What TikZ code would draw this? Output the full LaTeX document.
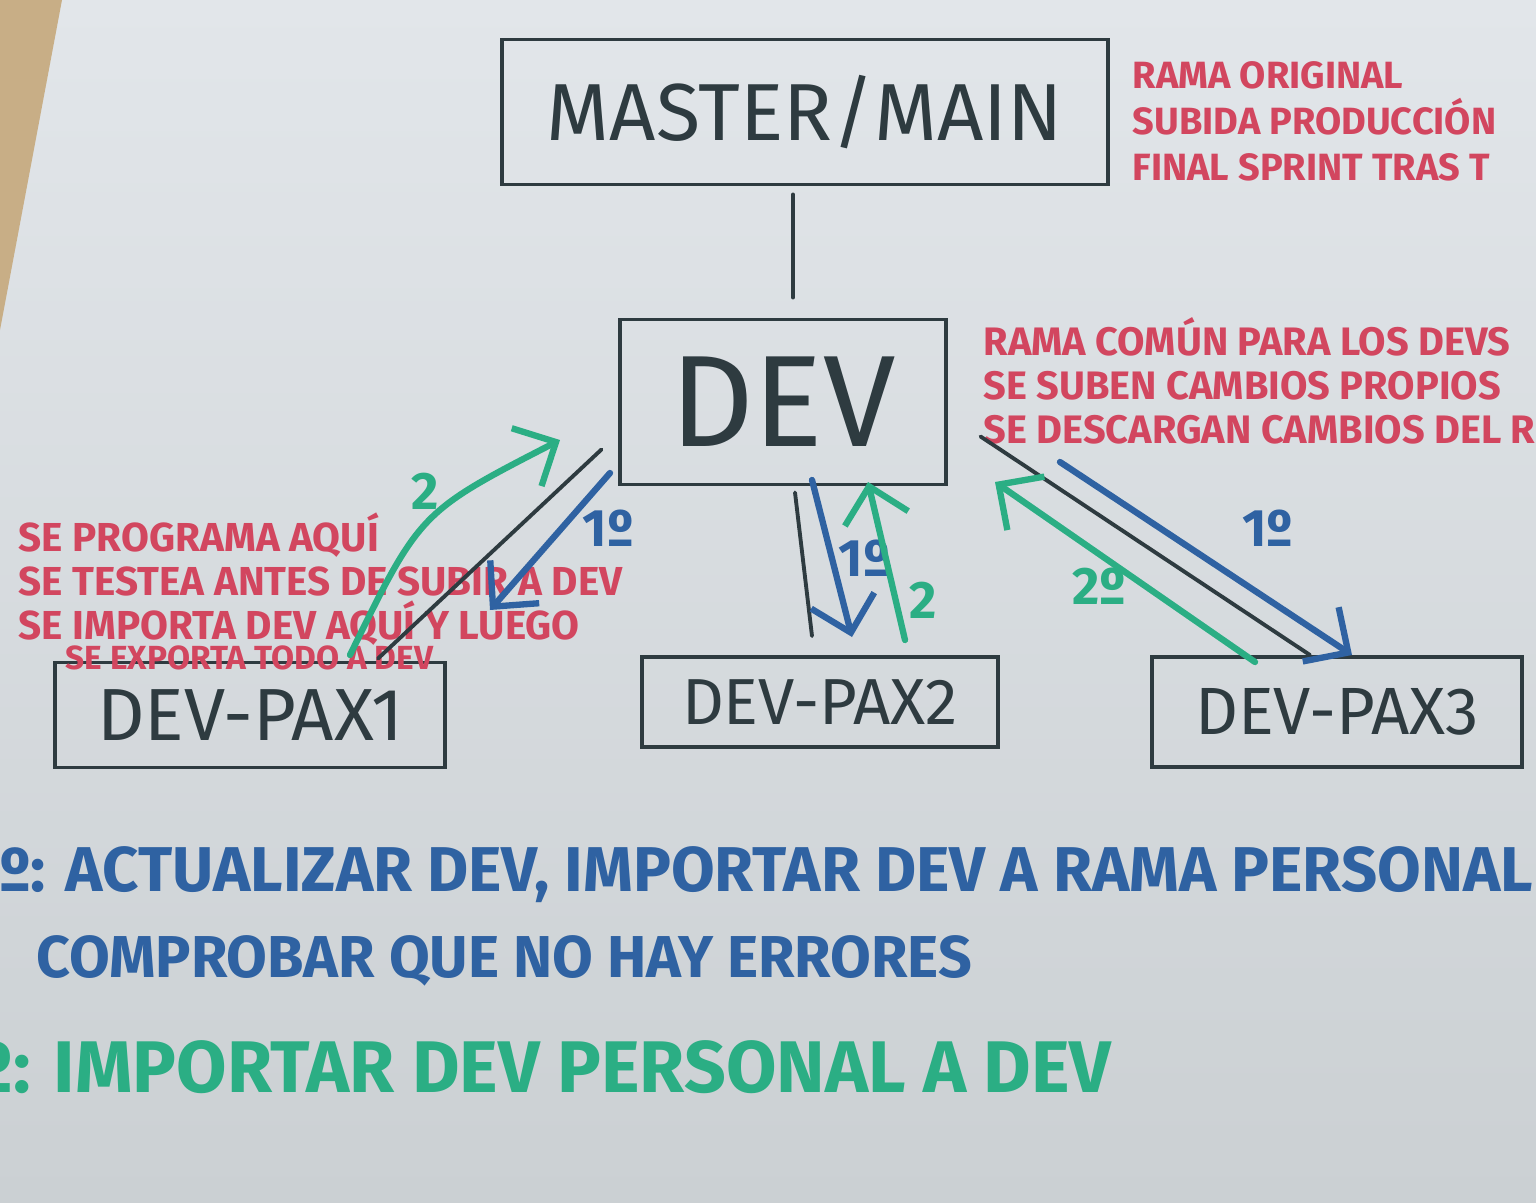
\documentclass[tikz,border=0pt]{standalone}
\usepackage{fontspec}
\setmainfont{Fira Sans}
\usetikzlibrary{arrows.meta, positioning, calc}

\definecolor{paper}{HTML}{E2E6EA}
\definecolor{paperlow}{HTML}{CBD0D3}
\definecolor{tabletop}{HTML}{C8AE86}
\definecolor{ink}{HTML}{2E3B40}
\definecolor{redink}{HTML}{D2465F}
\definecolor{blueink}{HTML}{2F62A2}
\definecolor{greenink}{HTML}{2BAE84}

\begin{document}
\begin{tikzpicture}[x=0.01cm, y=-0.01cm, >={Straight Barb[length=3.3mm, width=6.5mm]},
  branch/.style={draw=ink, line width=1.1pt, text=ink, inner sep=0pt},
  link/.style={draw=ink, line width=1.1pt, line cap=round},
  pull/.style={->, draw=blueink, line width=1.8pt, line cap=round},
  push/.style={->, draw=greenink, line width=1.8pt, line cap=round},
  note/.style={text=redink, align=left, anchor=north west, inner sep=0pt},
  pulltag/.style={text=blueink, font=\bfseries\fontsize{15}{15}\selectfont, inner sep=1pt},
  pushtag/.style={text=greenink, font=\bfseries\fontsize{15}{15}\selectfont, inner sep=1pt},
  steptext/.style={anchor=north west, inner sep=0pt, align=left}]

  % paper and table
  \useasboundingbox (0,0) rectangle (1536,1203);
  \shade[top color=paper, bottom color=paperlow] (0,0) rectangle (1536,1203);
  \fill[tabletop] (0,0) -- (62,0) -- (0,330) -- cycle;

  % branches
  \node[branch, minimum width=6.05cm, minimum height=1.45cm,
    font=\fontsize{23}{23}\selectfont] (master) at (805,112) {MASTER/MAIN};
  \node[branch, minimum width=3.25cm, minimum height=1.65cm,
    font=\fontsize{37}{37}\selectfont] (dev) at (783,402) {DEV};
  \node[branch, minimum width=3.9cm, minimum height=1.05cm,
    font=\fontsize{21}{21}\selectfont] (pax1) at (250,715) {DEV-PAX1};
  \node[branch, minimum width=3.55cm, minimum height=0.9cm,
    font=\fontsize{18.5}{18.5}\selectfont] (pax2) at (820,702) {DEV-PAX2};
  \node[branch, minimum width=3.7cm, minimum height=1.1cm,
    font=\fontsize{19}{19}\selectfont] (pax3) at (1337,712) {DEV-PAX3};

  % red notes
  \node[note, font=\bfseries\fontsize{10.8}{13}\selectfont] (masternote) at (1132,61)
    {RAMA ORIGINAL\\SUBIDA PRODUCCIÓN\\FINAL SPRINT TRAS T};
  \node[note, font=\bfseries\fontsize{11.3}{12.5}\selectfont] (devnote) at (983,317)
    {RAMA COMÚN PARA LOS DEVS\\SE SUBEN CAMBIOS PROPIOS\\SE DESCARGAN CAMBIOS DEL R};
  \node[note, font=\bfseries\fontsize{11.5}{12.5}\selectfont] (paxnote) at (18,512)
    {SE PROGRAMA AQUÍ\\SE TESTEA ANTES DE SUBIR A DEV\\SE IMPORTA DEV AQUÍ Y LUEGO};
  \node[note, font=\bfseries\fontsize{9.5}{12}\selectfont] (paxnotelast) at (65,645)
    {SE EXPORTA TODO A DEV};

  % tree
  \draw[link] ($(master.south)+(-12,8)$) -- ($(dev.north)+(10,-20)$);
  \draw[link] ($(dev.south west)+(-17,-37)$) -- ($(pax1.north)+(128,-2)$);
  \draw[link] ($(dev.south)+(12,6)$) -- ($(pax2.north)+(-8,-19)$);
  \draw[link] ($(dev.south east)+(33,-50)$) -- ($(pax3.north)+(-27,0)$);

  % arrow ends
  \coordinate (b1s) at (610,473);  \coordinate (b1e) at (490,610);
  \coordinate (b2s) at (812,480);  \coordinate (b2e) at (852,637);
  \coordinate (b3s) at (1060,462); \coordinate (b3e) at (1352,655);
  \coordinate (g1s) at (350,655);  \coordinate (g1c) at (420,512);
  \coordinate (g1e) at (560,440);
  \coordinate (g2s) at (905,640);  \coordinate (g2e) at (868,482);
  \coordinate (g3s) at (1255,662); \coordinate (g3e) at (995,482);

  % step 1: dev down to the personal branches
  \draw[pull] (b1s) -- node[pulltag, pos=0.4, right=4pt] {1º} (b1e);
  \draw[pull] (b2s) -- node[pulltag, pos=0.5, right=0pt] {1º} (b2e);
  \draw[pull] (b3s) -- node[pulltag, pos=0.55, above right=6pt] {1º} (b3e);

  % step 2: personal branches up to dev
  \draw[push] (g1s) .. controls (g1c) .. node[pushtag, pos=0.7, left=6pt] {2} (g1e);
  \draw[push] (g2s) -- node[pushtag, pos=0.25, right=2pt] {2} (g2e);
  \draw[push] (g3s) -- node[pushtag, pos=0.6, below=2pt] {2º} (g3e);

  % legend
  \node[steptext, text=blueink, font=\bfseries\fontsize{18}{24.5}\selectfont] (step1) at (-31,846)
    {1º: ACTUALIZAR DEV, IMPORTAR DEV A RAMA PERSONAL\\
     \hspace*{1.05em}{\fontsize{16.8}{24.5}\selectfont COMPROBAR QUE NO HAY ERRORES}};
  \node[steptext, text=greenink, font=\bfseries\fontsize{20.8}{20.8}\selectfont] (step2) at (-62,1040)
    {2º: IMPORTAR DEV PERSONAL A DEV};
\end{tikzpicture}
\end{document}
